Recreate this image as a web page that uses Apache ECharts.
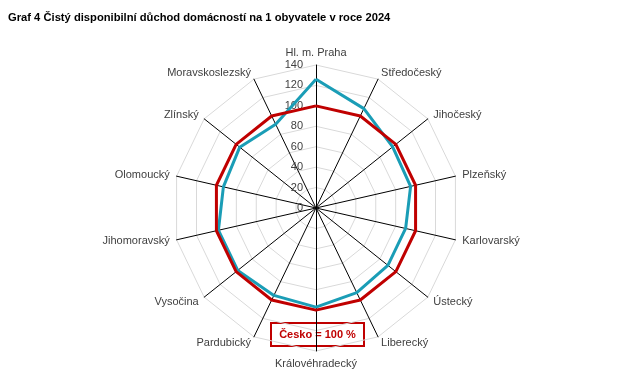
<!DOCTYPE html>
<html><head><meta charset="utf-8">
<script src="https://cdn.jsdelivr.net/npm/echarts@6/dist/echarts.min.js"></script>
<style>html,body{margin:0;padding:0;background:#fff}#c{width:642px;height:384px}</style>
</head><body><div id="c"></div>
<script>
// Clockwise order as in the reference, starting at top
var regions = ['Hl. m. Praha','Středočeský','Jihočeský','Plzeňský','Karlovarský','Ústecký','Liberecký','Královéhradecký','Pardubický','Vysočina','Jihomoravský','Olomoucký','Zlínský','Moravskoslezský'];
var regionValues = [126, 108, 96, 95, 90, 90, 92, 97, 95, 98, 98, 93, 95.5, 91];
var czValues = [100,100,100,100,100,100,100,100,100,100,100,100,100,100];
var axisMin = 0, axisMax = 140, axisStep = 20;
var title = 'Graf 4 Čistý disponibilní důchod domácností na 1 obyvatele v roce 2024';
var legendText = 'Česko = 100 %';

// ECharts radar runs counter-clockwise: keep first, reverse rest
function toCCW(a){ return [a[0]].concat(a.slice(1).reverse()); }
var names = toCCW(regions);
var indicators = names.map(function(n,i){
  var o = {name:n, min:axisMin, max:axisMax};
  if(i===0) o.axisLabel = {show:true};
  return o;
});

var chart = echarts.init(document.getElementById('c'));
chart.setOption({
  animation:false,
  title:{text:title, left:3, top:7, textStyle:{fontFamily:'Liberation Sans', fontSize:11.2, fontWeight:'bold', color:'#000'}},
  radar:{
    center:[316,208], radius:143, startAngle:90, shape:'polygon',
    splitNumber:(axisMax-axisMin)/axisStep,
    indicator:indicators,
    axisName:{color:'#404040', fontFamily:'Liberation Sans', fontSize:11},
    nameGap:7,
    axisLine:{lineStyle:{color:'#000', width:1}},
    splitLine:{lineStyle:{color:'#d9d9d9', width:1}},
    splitArea:{show:false},
    axisTick:{show:false},
    axisLabel:{show:false, color:'#404040', fontFamily:'Liberation Sans', fontSize:11, margin:13}
  },
  graphic:[{
    type:'group', left:270, top:322,
    children:[
      {type:'rect', shape:{x:0,y:0,width:93,height:23}, style:{fill:'#fff', stroke:'#C00000', lineWidth:2}},
      {type:'text', style:{x:46.5, y:12, text:legendText, align:'center', verticalAlign:'middle', fill:'#C00000', font:'bold 11px "Liberation Sans"'}}
    ]
  }],
  series:[{
    type:'radar', symbol:'none',
    data:[
      {value:toCCW(regionValues), name:'Kraje', lineStyle:{color:'#1A9DB6', width:3}},
      {value:toCCW(czValues), name:'Česko', lineStyle:{color:'#C00000', width:3}}
    ]
  }]
});
</script></body></html>
